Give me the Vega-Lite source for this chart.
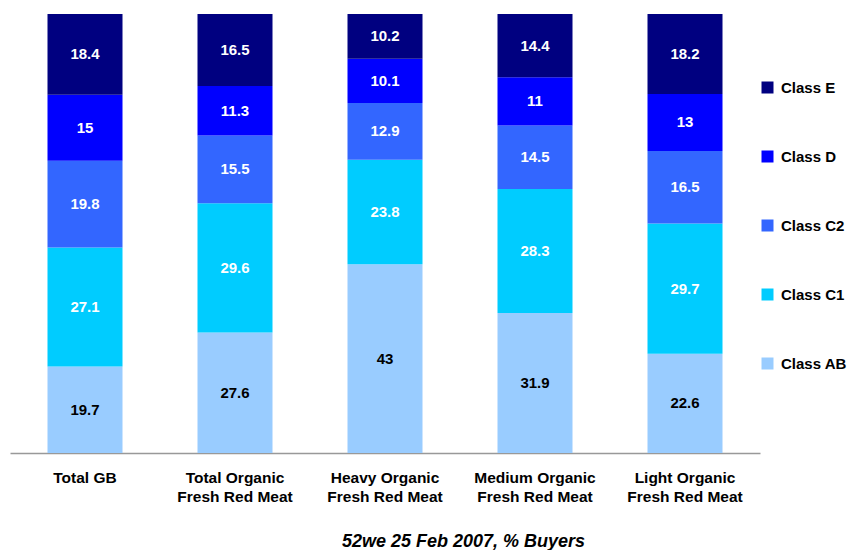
{
  "$schema": "https://vega.github.io/schema/vega-lite/v6.json",
  "width": 750,
  "height": 439,
  "autosize": {"type": "none"},
  "padding": {"left": 10, "top": 14, "right": 94, "bottom": 97},
  "config": {
    "view": {"stroke": null},
    "font": "Liberation Sans"
  },
  "data": {
    "values": [
      {"cat": "Total GB", "cls": "Class AB", "ord": 1, "value": 19.7},
      {"cat": "Total GB", "cls": "Class C1", "ord": 2, "value": 27.1},
      {"cat": "Total GB", "cls": "Class C2", "ord": 3, "value": 19.8},
      {"cat": "Total GB", "cls": "Class D", "ord": 4, "value": 15},
      {"cat": "Total GB", "cls": "Class E", "ord": 5, "value": 18.4},
      {"cat": "Total Organic|Fresh Red Meat", "cls": "Class AB", "ord": 1, "value": 27.6},
      {"cat": "Total Organic|Fresh Red Meat", "cls": "Class C1", "ord": 2, "value": 29.6},
      {"cat": "Total Organic|Fresh Red Meat", "cls": "Class C2", "ord": 3, "value": 15.5},
      {"cat": "Total Organic|Fresh Red Meat", "cls": "Class D", "ord": 4, "value": 11.3},
      {"cat": "Total Organic|Fresh Red Meat", "cls": "Class E", "ord": 5, "value": 16.5},
      {"cat": "Heavy Organic|Fresh Red Meat", "cls": "Class AB", "ord": 1, "value": 43},
      {"cat": "Heavy Organic|Fresh Red Meat", "cls": "Class C1", "ord": 2, "value": 23.8},
      {"cat": "Heavy Organic|Fresh Red Meat", "cls": "Class C2", "ord": 3, "value": 12.9},
      {"cat": "Heavy Organic|Fresh Red Meat", "cls": "Class D", "ord": 4, "value": 10.1},
      {"cat": "Heavy Organic|Fresh Red Meat", "cls": "Class E", "ord": 5, "value": 10.2},
      {"cat": "Medium Organic|Fresh Red Meat", "cls": "Class AB", "ord": 1, "value": 31.9},
      {"cat": "Medium Organic|Fresh Red Meat", "cls": "Class C1", "ord": 2, "value": 28.3},
      {"cat": "Medium Organic|Fresh Red Meat", "cls": "Class C2", "ord": 3, "value": 14.5},
      {"cat": "Medium Organic|Fresh Red Meat", "cls": "Class D", "ord": 4, "value": 11},
      {"cat": "Medium Organic|Fresh Red Meat", "cls": "Class E", "ord": 5, "value": 14.4},
      {"cat": "Light Organic|Fresh Red Meat", "cls": "Class AB", "ord": 1, "value": 22.6},
      {"cat": "Light Organic|Fresh Red Meat", "cls": "Class C1", "ord": 2, "value": 29.7},
      {"cat": "Light Organic|Fresh Red Meat", "cls": "Class C2", "ord": 3, "value": 16.5},
      {"cat": "Light Organic|Fresh Red Meat", "cls": "Class D", "ord": 4, "value": 13},
      {"cat": "Light Organic|Fresh Red Meat", "cls": "Class E", "ord": 5, "value": 18.2}
    ]
  },
  "encoding": {
    "x": {
      "field": "cat",
      "type": "nominal",
      "sort": null,
      "scale": {"paddingInner": 0.5, "paddingOuter": 0.25},
      "axis": {
        "title": "52we 25 Feb 2007, % Buyers",
        "titleFont": "Liberation Sans",
        "titleFontSize": 18,
        "titleFontWeight": "bold",
        "titleFontStyle": "italic",
        "titleColor": "#000000",
        "titleX": 453,
        "titleY": 88,
        "titleBaseline": "middle",
        "titleAnchor": "middle",
        "labelExpr": "split(datum.value, '|')",
        "labelAngle": 0,
        "labelFontSize": 15.5,
        "labelFontWeight": "bold",
        "labelColor": "#000000",
        "labelLineHeight": 19,
        "labelPadding": 24,
        "labelBaseline": "middle",
        "ticks": false,
        "domainColor": "#999999",
        "domainWidth": 1.5
      }
    },
    "y": {
      "field": "value",
      "type": "quantitative",
      "stack": "normalize",
      "axis": null
    },
    "order": {"field": "ord", "type": "quantitative"}
  },
  "layer": [
    {
      "mark": {"type": "bar"},
      "encoding": {
        "color": {
          "field": "cls",
          "type": "nominal",
          "scale": {
            "domain": ["Class E", "Class D", "Class C2", "Class C1", "Class AB"],
            "range": ["#000080", "#0000FF", "#3366FF", "#00CCFF", "#99CCFF"]
          },
          "legend": {
            "title": null,
            "orient": "none",
            "legendX": 750,
            "legendY": 66,
            "symbolType": "square",
            "symbolSize": 144,
            "symbolStrokeWidth": 0,
            "labelFontSize": 15,
            "labelFontWeight": "bold",
            "labelColor": "#000000",
            "labelOffset": 6,
            "rowPadding": 53
          }
        }
      }
    },
    {
      "mark": {"type": "text", "fontSize": 15, "fontWeight": "bold", "baseline": "middle"},
      "encoding": {
        "y": {
          "field": "value",
          "type": "quantitative",
          "stack": "normalize",
          "bandPosition": 0.5
        },
        "text": {"field": "value", "type": "quantitative"},
        "color": {
          "condition": {"test": "datum.cls === 'Class AB'", "value": "#000000"},
          "value": "#FFFFFF"
        }
      }
    }
  ]
}
